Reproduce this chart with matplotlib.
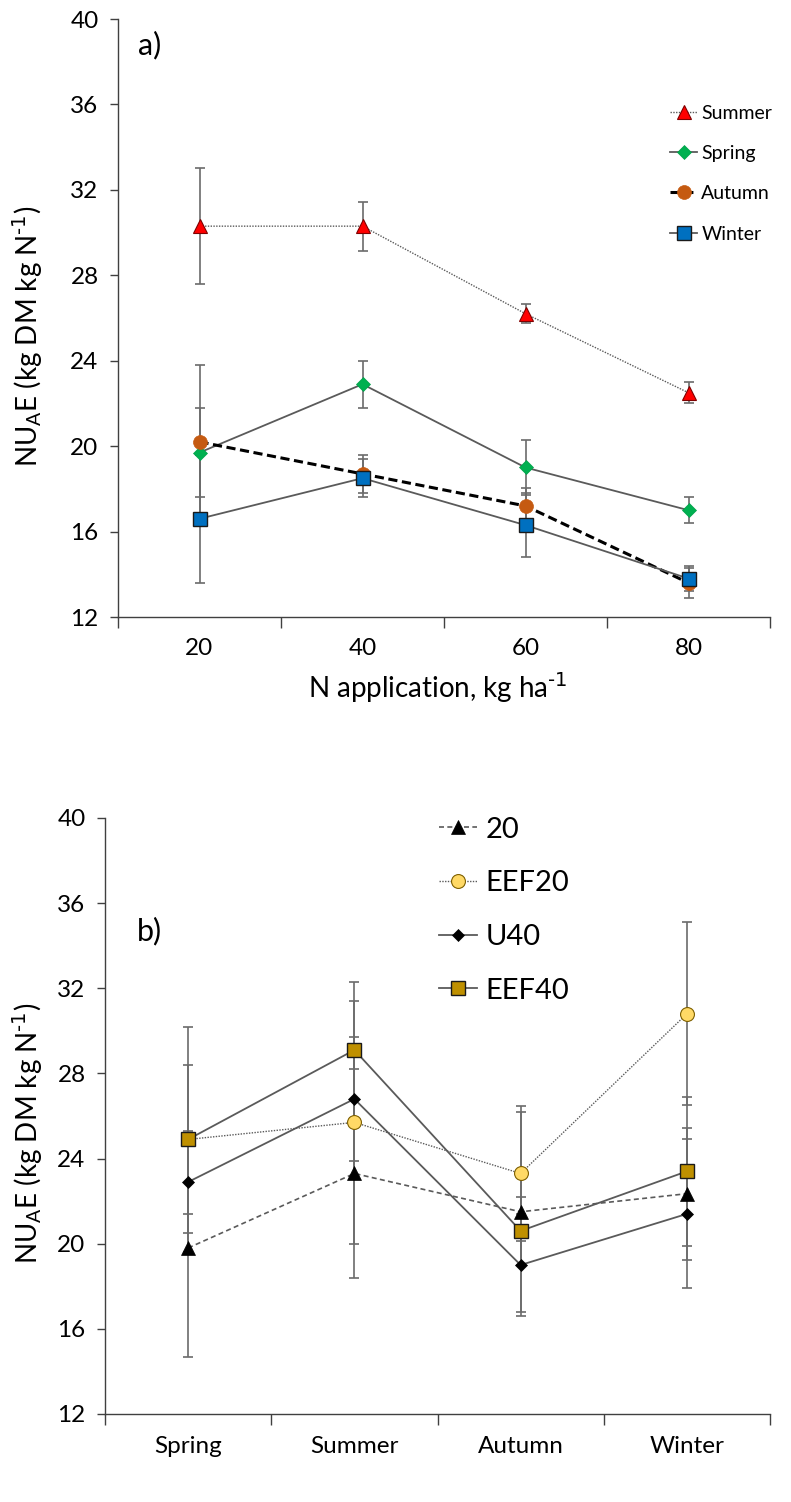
import numpy as np
import matplotlib.pyplot as plt

plt.rcParams['font.family'] = ['Lato', 'DejaVu Sans']
plt.rcParams['mathtext.default'] = 'regular'

# Panel a: NUAE by N rate, one line per season
n_rates = ['20', '40', '60', '80']
summer = [30.3, 30.3, 26.2, 22.5]
summer_err = [2.7, 1.15, 0.45, 0.5]
spring = [19.7, 22.9, 19.0, 17.0]
spring_err = [2.1, 1.1, 1.3, 0.6]
autumn = [20.2, 18.7, 17.2, 13.6]
autumn_err = [3.6, 0.9, 0.85, 0.7]
winter = [16.6, 18.5, 16.3, 13.8]
winter_err = [3.0, 0.9, 1.5, 0.6]

# Panel b: NUAE by season, one line per treatment
seasons = ['Spring', 'Summer', 'Autumn', 'Winter']
t20 = [19.8, 23.3, 21.5, 22.35]
t20_err = [5.1, 4.9, 4.7, 3.1]
eef20 = [24.9, 25.7, 23.3, 30.8]
eef20_err = [5.3, 5.7, 3.15, 4.3]
u40 = [22.9, 26.8, 19.0, 21.4]
u40_err = [2.4, 2.9, 2.4, 3.5]
eef40 = [24.9, 29.1, 20.6, 23.4]
eef40_err = [3.5, 3.2, 1.6, 3.5]

ylabel = r'NU$_{A}$E (kg DM kg N$^{\text{-1}}$)'
err_c = '#6b6b6b'
line_c = '#5a5a5a'

fig = plt.figure(figsize=(7.91, 15.02), dpi=100)
ax1 = fig.add_axes([118/791, 1 - 617/1502, 652/791, 598/1502])
ax2 = fig.add_axes([105/791, 1 - 1414/1502, 665/791, 596/1502])


def style_axis(ax, cats, pad_lbl):
    x = np.arange(len(cats))
    ax.set_xlim(-0.5, len(cats) - 0.5)
    ax.set_ylim(12, 40)
    ax.set_yticks(np.arange(12, 41, 4))
    ax.set_xticks(np.arange(-0.5, len(cats), 1.0))
    ax.set_xticklabels([])
    ax.set_xticks(x, minor=True)
    ax.set_xticklabels(cats, minor=True)
    ax.tick_params(axis='x', which='major', length=8, width=1, direction='out', color='#404040')
    ax.tick_params(axis='x', which='minor', length=0, pad=pad_lbl, labelsize=17.5)
    ax.tick_params(axis='y', length=6, width=1, direction='out', pad=8, labelsize=17.5, color='#404040')
    for s in ['top', 'right']:
        ax.spines[s].set_visible(False)
    for s in ['left', 'bottom']:
        ax.spines[s].set_color('#404040')
        ax.spines[s].set_linewidth(1)
    return x


def series(ax, x, y, e, ls, lw, lc, mk, ms, fc, ec, mew, label):
    ax.errorbar(x, y, yerr=e, fmt='none', ecolor=err_c, elinewidth=1.2, capsize=3.5, capthick=1.2, zorder=2)
    ax.plot(x, y, linestyle=ls, lw=lw, color=lc, marker=mk, ms=ms, mfc=fc, mec=ec, mew=mew,
            label=label, zorder=3)


# ---- a) ----
x = style_axis(ax1, n_rates, 15)
series(ax1, x, summer, summer_err, (0, (1, 1)), 1.0, line_c, '^', 10, '#ff0000', '#7f0000', 0.8, 'Summer')
series(ax1, x, spring, spring_err, '-', 1.3, line_c, 'D', 7.5, '#00b050', '#00a04a', 0.5, 'Spring')
series(ax1, x, autumn, autumn_err, (0, (3, 1.5)), 2.2, 'black', 'o', 10, '#c55a11', '#c55a11', 0.5, 'Autumn')
series(ax1, x, winter, winter_err, '-', 1.3, line_c, 's', 10.5, '#0070c0', '#1a1a1a', 1.0, 'Winter')

ax1.set_xlabel(r'N application, kg ha$^{\text{-1}}$', fontsize=20)
ax1.xaxis.set_label_coords(0.49, -0.09)
ax1.set_ylabel(ylabel, fontsize=20)
ax1.yaxis.set_label_coords(-0.112, 0.47)
ax1.text(0.03, 0.957, 'a)', transform=ax1.transAxes, fontsize=22, va='center', ha='left')
ax1.legend(loc='upper left', bbox_to_anchor=(0.835, 0.87), frameon=False, fontsize=14,
           handlelength=1.4, handletextpad=0.2, labelspacing=1.2, borderaxespad=0)

# ---- b) ----
x = style_axis(ax2, seasons, 16)
series(ax2, x, t20, t20_err, (0, (3, 2)), 1.2, line_c, '^', 10, 'black', 'black', 0.5, '20')
series(ax2, x, eef20, eef20_err, (0, (1, 1)), 1.0, line_c, 'o', 10, '#ffd966', '#7f6000', 0.8, 'EEF20')
series(ax2, x, u40, u40_err, '-', 1.3, line_c, 'D', 6.5, 'black', 'black', 0.5, 'U40')
series(ax2, x, eef40, eef40_err, '-', 1.3, line_c, 's', 10.5, '#bf9000', '#1a1a1a', 1.0, 'EEF40')

ax2.set_ylabel(ylabel, fontsize=20)
ax2.yaxis.set_label_coords(-0.09, 0.47)
ax2.text(0.048, 0.81, 'b)', transform=ax2.transAxes, fontsize=22, va='center', ha='left')
ax2.legend(loc='upper left', bbox_to_anchor=(0.485, 1.022), frameon=False, fontsize=21,
           handlelength=1.3, handletextpad=0.3, labelspacing=0.95, borderaxespad=0)

fig.savefig('out.png', dpi=100)
